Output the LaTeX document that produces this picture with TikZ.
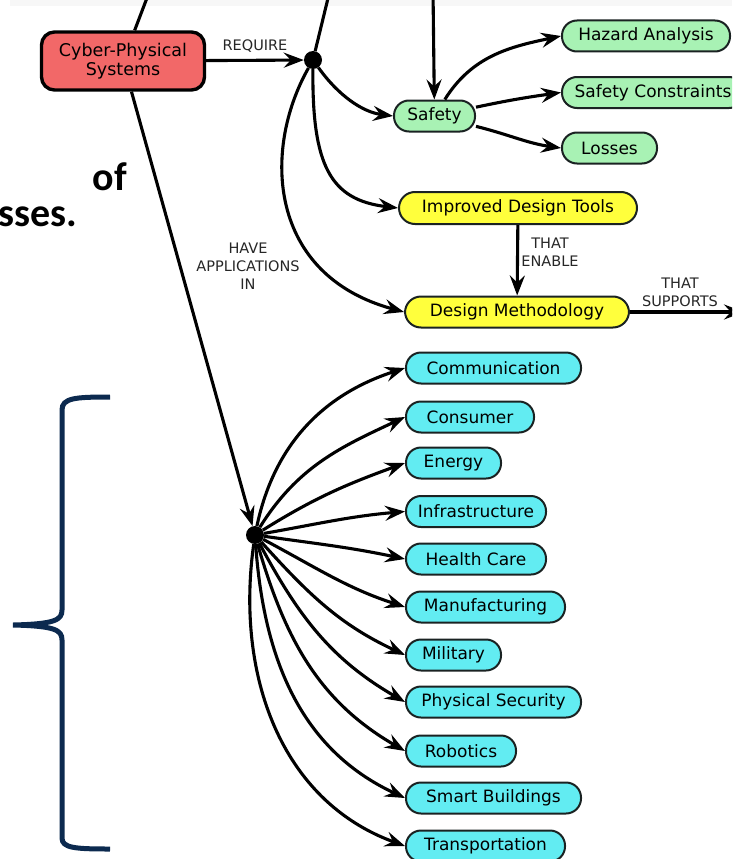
\documentclass[tikz,border=0pt]{standalone}
\usepackage{fontspec}
\setmainfont{DejaVu Sans}
\newfontfamily\slidefont{Carlito}
\usetikzlibrary{arrows.meta}
\definecolor{cpsred}{HTML}{F26868}
\definecolor{safegreen}{HTML}{A8F2B4}
\definecolor{dyellow}{HTML}{FFFF3C}
\definecolor{appcyan}{HTML}{62ECF2}
\definecolor{bracenavy}{HTML}{0C2A4F}
\definecolor{boxline}{HTML}{1A2222}
\begin{document}
\begin{tikzpicture}[x=1pt,y=-1pt,
  pill/.style={draw=boxline, line width=2pt, rounded corners=15pt, minimum height=31pt,
    inner sep=0pt, font=\fontsize{17}{20}\selectfont, anchor=west},
  greenbox/.style={pill, fill=safegreen},
  yellowbox/.style={pill, fill=dyellow, rounded corners=16pt},
  cyanbox/.style={pill, fill=appcyan},
  cpsbox/.style={draw=black, line width=3.4pt, rounded corners=13pt, fill=cpsred,
    minimum width=163pt, minimum height=58pt, inner sep=0pt, align=center,
    font=\fontsize{17.5}{19.5}\selectfont},
  conn/.style={line width=3.1pt, -{Stealth[length=20pt,width=15pt,inset=7pt]}},
  plainconn/.style={line width=3.1pt},
  junction/.style={circle, fill=black, minimum size=18pt, inner sep=0pt},
  lbl/.style={font=\fontsize{14.5}{18}\selectfont, align=center, inner sep=0pt, text=black!85},
  slidetext/.style={font=\slidefont\bfseries\fontsize{40}{48}\selectfont, inner sep=0pt, anchor=base east},
]
\useasboundingbox (0,0) rectangle (732,859);
\clip (0,0) rectangle (732,859);
\fill[black!3] (10,0) rectangle (732,6);

% slide text fragments
\node[slidetext] (oftext) at (127,190) {of};
\node[slidetext] (ssestext) at (77,226) {sses.};

% brace
\draw[bracenavy, line width=5pt] (110,397) .. controls (75,397) and (62,398) .. (62,410)
  -- (62,610) .. controls (62,620) and (55,624) .. (13,625)
  .. controls (55,626) and (62,630) .. (62,640)
  -- (62,838) .. controls (62,848) and (75,849) .. (110,849);

% main nodes
\node[cpsbox] (cps) at (123,61) {Cyber-Physical\\Systems};
\node[junction] (dot1) at (313,60) {};
\node[junction] (dot2) at (255,535) {};

\node[greenbox, minimum width=81pt] (safety) at (393,116) {Safety};
\node[greenbox, minimum width=168pt] (hazard) at (561,36) {Hazard Analysis};
\node[greenbox, minimum width=182pt] (constraints) at (561,92.5) {Safety Constraints};
\node[greenbox, minimum width=95pt] (losses) at (561,148) {Losses};

\node[yellowbox, minimum width=238pt, minimum height=32pt] (idt) at (398,208) {Improved Design Tools};
\node[yellowbox, minimum width=224pt] (dm) at (404,312) {Design Methodology};

\node[cyanbox, minimum width=175pt] (comm) at (405,368) {Communication};
\node[cyanbox, minimum width=128pt] (cons) at (405,417) {Consumer};
\node[cyanbox, minimum width=95pt] (energy) at (405,463) {Energy};
\node[cyanbox, minimum width=140pt] (infra) at (405,511.5) {Infrastructure};
\node[cyanbox, minimum width=140pt] (health) at (405,559) {Health Care};
\node[cyanbox, minimum width=159pt] (manu) at (405,607) {Manufacturing};
\node[cyanbox, minimum width=95pt] (mil) at (405,655) {Military};
\node[cyanbox, minimum width=175pt] (physec) at (405,702) {Physical Security};
\node[cyanbox, minimum width=110pt] (robo) at (405,751) {Robotics};
\node[cyanbox, minimum width=175pt] (smart) at (405,798) {Smart Buildings};
\node[cyanbox, minimum width=159pt] (trans) at (405,846) {Transportation};

% off-picture ends
\coordinate (topA) at (150,-10);
\coordinate (topB) at (330,-10);
\coordinate (topC) at (433,-10);
\coordinate (offR) at (744,312);

% connectors
\draw[plainconn] (topA) -- (cps);
\draw[plainconn] (topB) -- (dot1);
\draw[conn] (topC) -- (safety);
\draw[conn] (cps) -- node[lbl, above=6pt] (reqlbl) {REQUIRE} (dot1);
\draw[conn] (cps) -- (dot2);

\draw[conn] (dot1) .. controls (338,95) and (362,112) .. (safety.west);
\draw[conn] (dot1) .. controls (312,165) and (330,200) .. (idt.west);
\draw[conn] (dot1) .. controls (262,150) and (268,275) .. (dm.west);

\draw[conn] (safety) to[out=58, in=192] (hazard.west);
\draw[conn] (safety) to[out=12, in=188] (constraints.west);
\draw[conn] (safety) to[out=-14, in=172] (losses.west);

\draw[conn] (idt) -- (dm);
\draw[conn] (dm) -- (offR);

\draw[conn] (dot2) to[out=78, in=198] (comm.west);
\draw[conn] (dot2) to[out=58, in=205] (cons.west);
\draw[conn] (dot2) to[out=32, in=200] (energy.west);
\draw[conn] (dot2) to[out=10, in=185] (infra.west);
\draw[conn] (dot2) to[out=-8, in=168] (health.west);
\draw[conn] (dot2) to[out=-28, in=162] (manu.west);
\draw[conn] (dot2) to[out=-48, in=155] (mil.west);
\draw[conn] (dot2) to[out=-62, in=150] (physec.west);
\draw[conn] (dot2) to[out=-74, in=150] (robo.west);
\draw[conn] (dot2) to[out=-86, in=155] (smart.west);
\draw[conn] (dot2) to[out=-98, in=160] (trans.west);

% labels
\node[lbl] (havelbl) at (248,266) {HAVE\\APPLICATIONS\\IN};
\node[lbl] (enablelbl) at (550,252) {THAT\\ENABLE};
\node[lbl] (supportlbl) at (680,292) {THAT\\SUPPORTS};
\end{tikzpicture}
\end{document}
